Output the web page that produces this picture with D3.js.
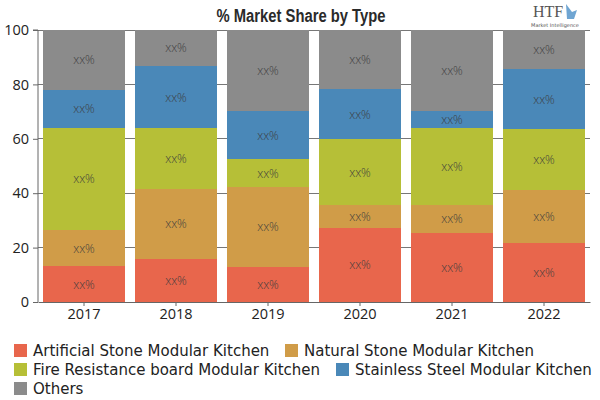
<!DOCTYPE html>
<html><head><meta charset="utf-8">
<script src="https://cdn.jsdelivr.net/npm/d3@7"></script>
<style>body{margin:0;background:#fff}</style>
</head><body><svg id="c" width="600" height="400"></svg>
<script>
const years = ["2017","2018","2019","2020","2021","2022"];
const seriesNames = ["Artificial Stone Modular Kitchen","Natural Stone Modular Kitchen","Fire Resistance board Modular Kitchen","Stainless Steel Modular Kitchen","Others"];
const artificial = [13.2, 15.9, 13.0, 27.3, 25.5, 21.6];
const natural    = [13.3, 25.6, 29.4, 8.4, 10.2, 19.6];
const fire       = [37.5, 22.3, 10.0, 24.1, 28.1, 22.3];
const stainless  = [14.0, 23.1, 17.9, 18.4, 6.5, 22.0];
const others     = [22.0, 13.1, 29.7, 21.8, 29.7, 14.5];
const yTicks = [0,20,40,60,80,100];
const colors = ["#e8664c","#d09c48","#b6bf37","#4a88b8","#8b8b8b"];

const svg = d3.select("#c");
const m = {l:38, r:10, t:30, b:98};
const W = 600, H = 400;
const x = d3.scaleBand().domain(years).range([m.l, W-m.r]).paddingInner(0.11).paddingOuter(0.055);
const y = d3.scaleLinear().domain([0,100]).range([H-m.b, m.t]);

const rows = years.map((yr,i)=>({year:yr, s0:artificial[i], s1:natural[i], s2:fire[i], s3:stainless[i], s4:others[i]}));
const stack = d3.stack().keys(["s0","s1","s2","s3","s4"])(rows);

// gridlines
svg.append("g").selectAll("line").data(yTicks.slice(1)).join("line")
  .attr("x1", m.l).attr("x2", W-m.r).attr("y1", d=>y(d)).attr("y2", d=>y(d))
  .attr("stroke","#777").attr("stroke-width",1).attr("shape-rendering","crispEdges");

// bars
const g = svg.append("g");
stack.forEach((layer,k)=>{
  g.append("g").selectAll("rect").data(layer).join("rect")
    .attr("x", d=>x(d.data.year)).attr("width", x.bandwidth())
    .attr("y", d=>y(d[1])).attr("height", d=>y(d[0])-y(d[1]))
    .attr("fill", colors[k]).attr("shape-rendering","crispEdges");
  g.append("g").selectAll("text").data(layer).join("text")
    .attr("x", d=>x(d.data.year)+x.bandwidth()/2)
    .attr("y", d=>(y(d[0])+y(d[1]))/2)
    .attr("text-anchor","middle").attr("dominant-baseline","central")
    .attr("font-family","Open Sans, sans-serif").attr("font-size",12).attr("font-weight",300)
    .attr("fill","#3d3d3d").text("xx%");
});

// axes
const yAxis = svg.append("g").attr("transform",`translate(${m.l},0)`)
  .call(d3.axisLeft(y).tickValues(yTicks).tickSize(5).tickPadding(4));
const xAxis = svg.append("g").attr("transform",`translate(0,${H-m.b})`)
  .call(d3.axisBottom(x).tickSize(4).tickPadding(3).tickSizeOuter(0));
[yAxis,xAxis].forEach(a=>{
  a.select(".domain").attr("stroke","#666");
  a.selectAll(".tick line").attr("stroke","#666");
  a.selectAll("text").attr("font-family","Open Sans, sans-serif").attr("font-size",14.5).attr("fill","#222");
});
yAxis.selectAll(".domain").attr("d", `M-5,${y(100)}H0V${y(0)}`);

// title
svg.append("text").attr("x",301).attr("y",22).attr("text-anchor","middle")
  .attr("font-family","Liberation Sans Narrow, Liberation Sans, sans-serif").attr("font-weight","bold")
  .attr("font-size",18).attr("fill","#2a2a2a")
  .attr("textLength",169).attr("lengthAdjust","spacingAndGlyphs")
  .text("% Market Share by Type");

// logo
svg.append("text").attr("x",548).attr("y",17).attr("text-anchor","middle")
  .attr("font-family","Liberation Serif, serif").attr("font-size",16).attr("fill","#555").text("HTF");
svg.append("text").attr("x",555).attr("y",27).attr("text-anchor","middle")
  .attr("font-family","DejaVu Sans, sans-serif").attr("font-size",5).attr("fill","#555").text("Market Intelligence");
svg.append("path").attr("d","M566,4 l6,8 l5,-2 l-3,9 l-7,0 z").attr("fill","#4b8fc7").attr("opacity",0.8);

// legend
const leg = svg.append("g");
const pos = [[14,351],[285,351],[14,370],[336,370],[14,389]];
const legLens = [244, 226, 290, 232, 50];
seriesNames.forEach((n,i)=>{
  const [lx,ly] = pos[i];
  leg.append("rect").attr("x",lx).attr("y",ly-7).attr("width",13).attr("height",13).attr("fill",colors[i]);
  leg.append("text").attr("x",lx+19).attr("y",ly).attr("dominant-baseline","central")
    .attr("font-family","DejaVu Sans, sans-serif").attr("font-size",15).attr("fill","#222").text(n);
});
</script></body></html>
